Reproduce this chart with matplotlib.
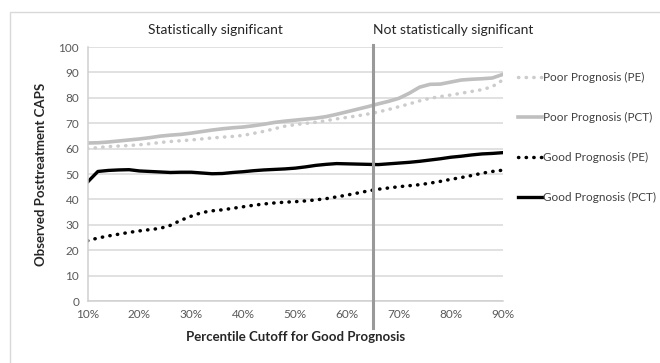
import matplotlib.pyplot as plt
from matplotlib.patches import Rectangle

plt.rcParams['font.family'] = ['Lato', 'DejaVu Sans']

# percentile cutoff for good prognosis (%)
cutoffs = list(range(10, 91, 2))

poor_pct = [62.2, 62.3, 62.6, 63.0, 63.4, 63.8, 64.3, 64.9, 65.3, 65.6,
            66.1, 66.7, 67.3, 67.8, 68.2, 68.5, 69.0, 69.6, 70.3, 70.8,
            71.2, 71.6, 72.0, 72.6, 73.5, 74.5, 75.5, 76.5, 77.6, 78.6,
            79.8, 81.8, 84.2, 85.3, 85.4, 86.2, 87.0, 87.3, 87.5, 87.8, 89.2]
poor_pe = [60.0, 60.4, 60.8, 61.0, 61.2, 61.5, 61.9, 62.4, 62.8, 63.1,
           63.4, 63.8, 64.2, 64.5, 64.8, 65.2, 66.0, 66.8, 67.8, 68.8,
           69.4, 69.9, 70.4, 71.0, 71.7, 72.3, 72.9, 73.6, 74.4, 75.4,
           76.5, 77.6, 78.8, 79.8, 80.5, 81.1, 81.8, 82.5, 83.2, 84.4, 87.0]
good_pct = [46.8, 51.0, 51.4, 51.6, 51.7, 51.2, 51.0, 50.8, 50.6, 50.7,
            50.7, 50.4, 50.1, 50.2, 50.6, 50.9, 51.3, 51.6, 51.8, 52.0,
            52.3, 52.8, 53.4, 53.8, 54.1, 54.0, 53.9, 53.8, 53.7, 54.0,
            54.3, 54.6, 55.0, 55.5, 56.0, 56.6, 57.0, 57.5, 57.9, 58.1, 58.4]
good_pe = [23.7, 24.8, 25.6, 26.3, 27.0, 27.6, 28.1, 28.6, 29.8, 31.8,
           33.4, 34.8, 35.5, 35.9, 36.5, 37.1, 37.7, 38.2, 38.6, 38.9,
           39.1, 39.4, 39.8, 40.3, 41.0, 41.7, 42.5, 43.3, 44.0, 44.5,
           45.0, 45.4, 45.8, 46.4, 47.1, 47.9, 48.6, 49.4, 50.3, 51.0, 51.5]

significance_cutoff = 65
x_ticks = [10, 20, 30, 40, 50, 60, 70, 80, 90]
y_ticks = list(range(0, 101, 10))

dots = (0, (0.1, 2.1))

fig = plt.figure(figsize=(6.6, 3.63), dpi=100)
fig.patches.append(Rectangle((10 / 660, -0.2), 1.0, 1.2 - 12 / 363, transform=fig.transFigure,
                             fill=False, edgecolor='#d9d9d9', linewidth=1.0))

ax = fig.add_axes([87.5 / 660, 1 - 301 / 363, 415.2 / 660, 254 / 363])

ax.plot(cutoffs, poor_pe, color='#cccccc', linestyle=dots, linewidth=2.5,
        dash_capstyle='round', label='Poor Prognosis (PE)')
ax.plot(cutoffs, poor_pct, color='#bfbfbf', linewidth=2.6, label='Poor Prognosis (PCT)')
ax.plot(cutoffs, good_pe, color='black', linestyle=dots, linewidth=2.5,
        dash_capstyle='round', label='Good Prognosis (PE)')
ax.plot(cutoffs, good_pct, color='black', linewidth=2.4, label='Good Prognosis (PCT)')

ax.plot([significance_cutoff, significance_cutoff], [-10.6, 100.8], color='#999999',
        linewidth=2.2, clip_on=False, zorder=5)

ax.set_xlim(10, 90)
ax.set_ylim(0, 100)
ax.set_xticks(x_ticks)
ax.set_xticklabels([f'{t}%' for t in x_ticks])
ax.set_yticks(y_ticks)
ax.grid(axis='y', color='#d9d9d9', linewidth=1.1)
ax.set_axisbelow(True)
for side in ['top', 'right']:
    ax.spines[side].set_visible(False)
for side in ['left', 'bottom']:
    ax.spines[side].set_color('#d0d0d0')
    ax.spines[side].set_linewidth(1.1)
ax.tick_params(length=0, labelsize=8.5, labelcolor='#595959', pad=6)

ax.set_xlabel('Percentile Cutoff for Good Prognosis', fontsize=9.5, fontweight='bold',
              color='#262626', labelpad=8)
ax.set_ylabel('Observed Posttreatment CAPS', fontsize=9.5, fontweight='bold',
              color='#262626', labelpad=8)

fig.text(215 / 660, 1 - 30 / 363, 'Statistically significant', ha='center', va='center',
         fontsize=10, color='#262626')
fig.text(453 / 660, 1 - 30 / 363, 'Not statistically significant', ha='center', va='center',
         fontsize=10, color='#262626')

ax.legend(loc='upper left', bbox_to_anchor=(512 / 660, 1 - 66 / 363),
          bbox_transform=fig.transFigure, frameon=False, fontsize=8.5,
          handlelength=2.0, handletextpad=0.15, labelspacing=2.45, borderpad=0,
          labelcolor='#404040')

fig.savefig('out.png', dpi=100)
